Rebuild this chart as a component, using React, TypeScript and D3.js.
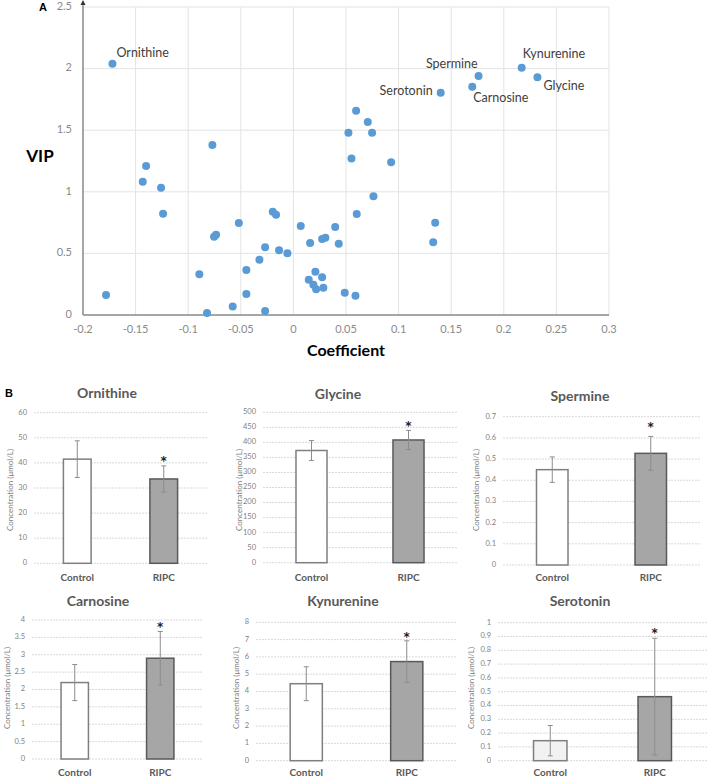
import React from 'react';
import * as d3 from 'd3';

// ---- panel A : VIP vs coefficient ----
const COEF = [
  -0.077, -0.14, 0.0596, 0.0523, 0.0552, 0.0707, 0.0748, 0.0929, -0.1432, -0.1258,
  -0.1239, -0.1781, -0.0519, -0.0754, -0.0735, -0.0196, -0.0165, 0.007, 0.0602, 0.0397,
  0.0159, 0.0273, 0.0304, 0.0431, -0.0269, -0.0136, -0.0057, -0.0323, -0.0894, -0.0447,
  -0.0447, -0.0821, -0.0577, -0.0269, 0.0209, 0.0146, 0.0273, 0.019, 0.0216, 0.0285,
  0.0488, 0.059, 0.0761, 0.1348, 0.1329,
];
const VIP = [
  1.38, 1.21, 1.658, 1.48, 1.27, 1.567, 1.48, 1.239, 1.082, 1.033,
  0.822, 0.162, 0.747, 0.636, 0.652, 0.839, 0.814, 0.722, 0.82, 0.714,
  0.584, 0.617, 0.628, 0.579, 0.549, 0.525, 0.501, 0.449, 0.33, 0.365,
  0.17, 0.016, 0.068, 0.032, 0.352, 0.287, 0.306, 0.246, 0.208, 0.222,
  0.181, 0.157, 0.963, 0.749, 0.59,
];
const LABELED = ['Ornithine', 'Kynurenine', 'Glycine', 'Spermine', 'Carnosine', 'Serotonin'];
const LABELED_COEF = [-0.172, 0.217, 0.232, 0.176, 0.17, 0.14];
const LABELED_VIP = [2.04, 2.007, 1.929, 1.94, 1.853, 1.804];
const X_TICKS = [-0.2, -0.15, -0.1, -0.05, 0, 0.05, 0.1, 0.15, 0.2, 0.25, 0.3];
const Y_TICKS = [0, 0.5, 1, 1.5, 2, 2.5];

// ---- panel B : concentrations ----
const GROUPS = ['Control', 'RIPC'];
const METABOLITES = ['Ornithine', 'Glycine', 'Spermine', 'Carnosine', 'Kynurenine', 'Serotonin'];
const Y_MAX = [60, 500, 0.7, 4, 8, 1];
const Y_STEP = [10, 50, 0.1, 0.5, 1, 0.1];
const CONTROL_MEAN = [41.5, 373, 0.45, 2.2, 4.45, 0.145];
const CONTROL_ERR = [7.3, 33, 0.06, 0.52, 0.98, 0.11];
const RIPC_MEAN = [33.6, 408, 0.527, 2.9, 5.73, 0.464];
const RIPC_ERR = [5.2, 32, 0.08, 0.77, 1.2, 0.423];
const STAR_AT = [42, 466, 0.666, 3.9, 7.33, 0.954];

const FONT = 'Lato, "Open Sans", sans-serif';

// label placement around the highlighted points (px)
const LABEL_POS: Record<string, { dx: number; dy: number; anchor: string }> = {
  Ornithine: { dx: 4, dy: -10, anchor: 'start' },
  Kynurenine: { dx: 1, dy: -13, anchor: 'start' },
  Glycine: { dx: 6, dy: 9, anchor: 'start' },
  Spermine: { dx: -1, dy: -11, anchor: 'end' },
  Carnosine: { dx: 1, dy: 12, anchor: 'start' },
  Serotonin: { dx: -8, dy: -1, anchor: 'end' },
};

// geometry of the six small bar charts
const PANELS = [
  { x0: 34, x1: 207, yTop: 412.7, yBot: 563.3, tx: 107, ty: 394, lx: 11, ly: 490, cy: 578 },
  { x0: 263, x1: 457, yTop: 412.3, yBot: 562.7, tx: 338, ty: 395, lx: 240, ly: 490, cy: 578 },
  { x0: 503, x1: 700, yTop: 416.7, yBot: 565, tx: 580, ty: 397, lx: 477, ly: 490, cy: 578 },
  { x0: 32, x1: 203, yTop: 620, yBot: 759, tx: 98, ty: 602, lx: 8, ly: 688, cy: 773 },
  { x0: 256, x1: 457, yTop: 622.3, yBot: 760.7, tx: 343, ty: 602, lx: 237, ly: 688, cy: 773 },
  { x0: 498, x1: 707, yTop: 622.7, yBot: 760.7, tx: 580, ty: 602, lx: 472, ly: 688, cy: 773 },
];

const fmt = (v: number) => String(+v.toFixed(2));

function ScatterPanel() {
  const x = d3.scaleLinear().domain([-0.2, 0.3]).range([83, 609]);
  const y = d3.scaleLinear().domain([0, 2.5]).range([315, 7]);
  const blue = '#5b9bd5';
  return (
    <g>
      <text x={43} y={8} fontSize={11} fontWeight="bold" fontFamily="Arial, sans-serif" dominantBaseline="middle" textAnchor="middle">A</text>
      {X_TICKS.map((t) => (
        <line key={'vx' + t} x1={x(t)} x2={x(t)} y1={y(2.5)} y2={y(0)} stroke="#e3e3e3" strokeWidth={1} />
      ))}
      {Y_TICKS.map((t) => (
        <line key={'hy' + t} x1={x(-0.2)} x2={x(0.3)} y1={y(t)} y2={y(t)} stroke="#e3e3e3" strokeWidth={1} />
      ))}
      <line x1={x(-0.2)} x2={x(0.3)} y1={y(0)} y2={y(0)} stroke="#8c8c8c" strokeWidth={1.5} />
      <line x1={x(-0.2)} x2={x(-0.2)} y1={y(0)} y2={3} stroke="#8c8c8c" strokeWidth={1.5} />
      <path d={`M${x(-0.2) - 2.5},5 L${x(-0.2)},0 L${x(-0.2) + 2.5},5 Z`} fill="#333" />
      {Y_TICKS.map((t) => (
        <text key={'yl' + t} x={72} y={y(t)} fontSize={11} fill="#8a8a8a" fontFamily={FONT} textAnchor="end" dominantBaseline="middle">{fmt(t)}</text>
      ))}
      {X_TICKS.map((t) => (
        <text key={'xl' + t} x={x(t)} y={330} fontSize={11} fill="#8a8a8a" fontFamily={FONT} textAnchor="middle" dominantBaseline="middle">{fmt(t)}</text>
      ))}
      <text x={40} y={158} fontSize={17} fontWeight="bold" fontFamily={FONT} textAnchor="middle" dominantBaseline="middle">VIP</text>
      <text x={346} y={352} fontSize={16} fontWeight="bold" fontFamily={FONT} textAnchor="middle" dominantBaseline="middle">Coefficient</text>
      {COEF.map((c, i) => (
        <circle key={'p' + i} cx={x(c)} cy={y(VIP[i])} r={4} fill={blue} />
      ))}
      {LABELED.map((name, i) => {
        const p = LABEL_POS[name];
        return (
          <g key={name}>
            <circle cx={x(LABELED_COEF[i])} cy={y(LABELED_VIP[i])} r={4} fill={blue} />
            <text x={x(LABELED_COEF[i]) + p.dx} y={y(LABELED_VIP[i]) + p.dy} fontSize={12.5} fill="#404040" fontFamily={FONT} textAnchor={p.anchor} dominantBaseline="middle">{name}</text>
          </g>
        );
      })}
    </g>
  );
}

function BarPanel({ i }: { i: number }) {
  const L = PANELS[i];
  const y = d3.scaleLinear().domain([0, Y_MAX[i]]).range([L.yBot, L.yTop]);
  const x = d3.scaleBand().domain(GROUPS).range([L.x0, L.x1]).paddingInner(0.68).paddingOuter(0.34);
  const ticks = d3.range(0, Y_MAX[i] + Y_STEP[i] / 2, Y_STEP[i]);
  const means = [CONTROL_MEAN[i], RIPC_MEAN[i]];
  const errs = [CONTROL_ERR[i], RIPC_ERR[i]];
  const ctrlFill = METABOLITES[i] === 'Serotonin' ? '#f2f2f2' : '#ffffff';
  return (
    <g>
      <text x={L.tx} y={L.ty} fontSize={14} fontWeight="bold" fill="#595959" fontFamily={FONT} textAnchor="middle" dominantBaseline="middle">{METABOLITES[i]}</text>
      {ticks.map((t) => (
        <g key={t}>
          <line x1={L.x0} x2={L.x1} y1={y(t)} y2={y(t)} stroke="#d9d9d9" strokeWidth={1} strokeDasharray="2,1" />
          <text x={L.x0 - 7} y={y(t)} fontSize={7.5} fill="#7f7f7f" fontFamily={FONT} textAnchor="end" dominantBaseline="middle">{fmt(t)}</text>
        </g>
      ))}
      <text transform={`translate(${L.lx},${L.ly}) rotate(-90)`} fontSize={8} fill="#7f7f7f" fontFamily={FONT} textAnchor="middle" dominantBaseline="middle">Concentration (μmol/L)</text>
      {GROUPS.map((g, k) => {
        const bx = x(g) as number;
        const bw = x.bandwidth();
        const cx = bx + bw / 2;
        return (
          <g key={g}>
            <rect x={bx} y={y(means[k])} width={bw} height={y(0) - y(means[k])}
              fill={k === 0 ? ctrlFill : '#a6a6a6'} stroke={k === 0 ? '#7f7f7f' : '#595959'} strokeWidth={1.5} />
            <line x1={cx} x2={cx} y1={y(means[k] + errs[k])} y2={y(means[k] - errs[k])} stroke="#8c8c8c" strokeWidth={1} />
            <line x1={cx - 2.5} x2={cx + 2.5} y1={y(means[k] + errs[k])} y2={y(means[k] + errs[k])} stroke="#8c8c8c" strokeWidth={1} />
            <line x1={cx - 2.5} x2={cx + 2.5} y1={y(means[k] - errs[k])} y2={y(means[k] - errs[k])} stroke="#8c8c8c" strokeWidth={1} />
            <text x={cx} y={L.cy} fontSize={10} fontWeight="bold" fill="#595959" fontFamily={FONT} textAnchor="middle" dominantBaseline="middle">{g}</text>
          </g>
        );
      })}
      <text x={(x('RIPC') as number) + x.bandwidth() / 2} y={y(STAR_AT[i]) + 4} fontSize={12} fontWeight="bold" fill="#222" fontFamily='"DejaVu Sans", sans-serif' textAnchor="middle" dominantBaseline="middle">*</text>
    </g>
  );
}

export default function App() {
  return (
    <div style={{ position: 'absolute', left: 0, top: 0 }}>
      <svg width={709} height={780} viewBox="0 0 709 780" style={{ display: 'block', background: '#fff' }}>
        <ScatterPanel />
        <text x={9} y={394} fontSize={11} fontWeight="bold" fontFamily="Arial, sans-serif" dominantBaseline="middle" textAnchor="middle">B</text>
        {METABOLITES.map((m, i) => (
          <BarPanel key={m} i={i} />
        ))}
      </svg>
    </div>
  );
}
